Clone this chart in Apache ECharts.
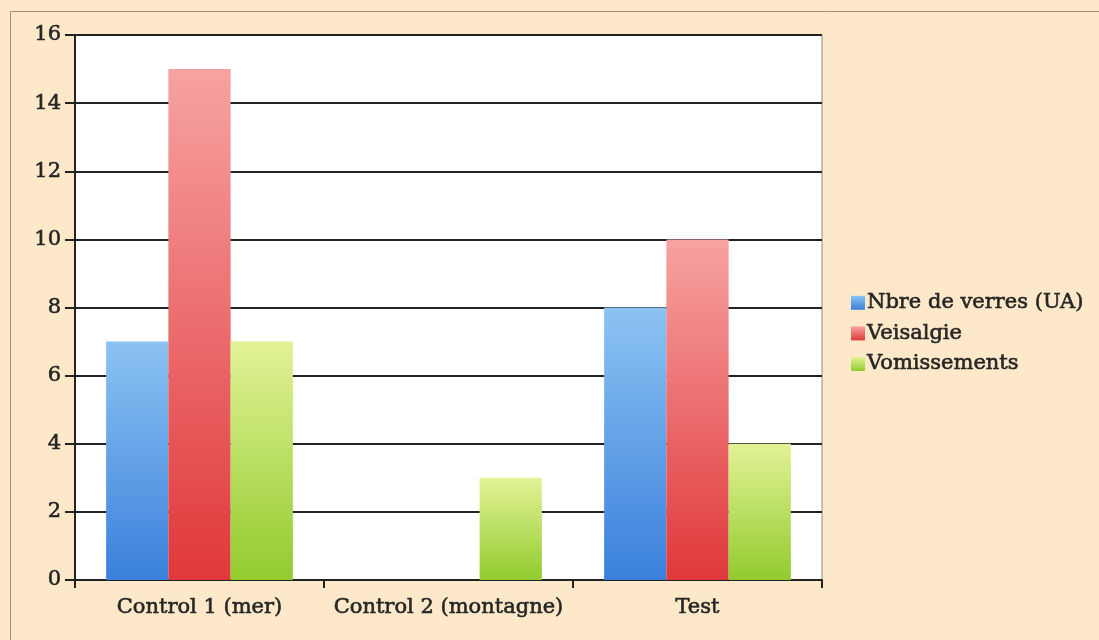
<!DOCTYPE html>
<html>
<head>
<meta charset="utf-8">
<script src="https://cdn.jsdelivr.net/npm/echarts@6/dist/echarts.min.js"></script>
<style>
  html, body { margin: 0; padding: 0; background: #fde9c9; }
  #Ebox { width: 1099px; height: 640px; }
</style>
</head>
<body>
<div id="Ebox"></div>
<script>
var categories = ["Control 1 (mer)", "Control 2 (montagne)", "Test"];
var seriesNames = ["Nbre de verres (UA)", "Veisalgie", "Vomissements"];
var verres = [7, 0, 8];
var veisalgie = [15, 0, 10];
var vomissements = [7, 3, 4];
var yTicks = [0, 2, 4, 6, 8, 10, 12, 14, 16];

function grad(top, bottom) {
  return new echarts.graphic.LinearGradient(0, 0, 0, 1, [
    { offset: 0, color: top },
    { offset: 1, color: bottom }
  ]);
}

var font = "'DejaVu Serif', 'Liberation Serif', serif";
// a thin outline of the same colour makes the serif text look semi-bold like the original
var txt = { fontFamily: font, fontSize: 21, color: "#262626", textBorderColor: "#262626", textBorderWidth: 0.6 };

var myChart = echarts.init(document.getElementById("Ebox"));
var option = {
  backgroundColor: "#fde9c9",
  textStyle: { fontFamily: font },
  graphic: [
    {
      type: "rect",
      shape: { x: 10.5, y: 11.5, width: 1100, height: 640 },
      style: { fill: "none", stroke: "#9a9080", lineWidth: 1 },
      silent: true
    }
  ],
  legend: {
    orient: "vertical",
    left: 846,
    top: 287,
    itemWidth: 14,
    itemHeight: 14,
    itemGap: 9,
    icon: "rect",
    textStyle: Object.assign({}, txt, { padding: [0, 0, 0, -3] }),
    data: seriesNames
  },
  grid: {
    left: 75,
    top: 35,
    right: 277,
    bottom: 60,
    show: true,
    backgroundColor: "#ffffff",
    borderColor: "#8a8a8a",
    borderWidth: 1
  },
  xAxis: {
    type: "category",
    data: categories,
    axisLine: { lineStyle: { color: "#222", width: 2 } },
    axisTick: { show: true, length: 8, lineStyle: { color: "#222", width: 2 } },
    axisLabel: Object.assign({}, txt, { margin: 17, interval: 0 })
  },
  yAxis: {
    type: "value",
    min: 0,
    max: 16,
    interval: 2,
    axisLine: { show: true, lineStyle: { color: "#222", width: 2 } },
    axisTick: { show: true, length: 10, lineStyle: { color: "#222", width: 2 } },
    axisLabel: Object.assign({}, txt, {
      margin: 14,
      formatter: function (v) { return yTicks.indexOf(v) >= 0 ? String(v) : ""; }
    }),
    splitLine: { lineStyle: { color: "#222", width: 2 } }
  },
  series: [
    {
      name: seriesNames[0],
      type: "bar",
      barGap: "0%",
      barCategoryGap: "25%",
      data: verres,
      itemStyle: { color: grad("#8cc3f2", "#3a80dc") }
    },
    {
      name: seriesNames[1],
      type: "bar",
      data: veisalgie,
      itemStyle: { color: grad("#f7a2a2", "#e0383a") }
    },
    {
      name: seriesNames[2],
      type: "bar",
      data: vomissements,
      itemStyle: { color: grad("#e2f296", "#92cb2e") }
    }
  ]
};
myChart.setOption(option);
</script>
</body>
</html>
